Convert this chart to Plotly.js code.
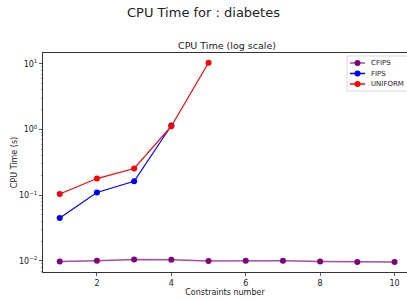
<!DOCTYPE html>
<html><head><meta charset="utf-8">
<script src="https://cdn.plot.ly/plotly-3.0.1.min.js"></script>
<style>html,body{margin:0;padding:0;background:#fff}#c{width:407px;height:301px}</style>
</head><body><div id="c"></div>
<script>
const constraints = [1,2,3,4,5,6,7,8,9,10];
const cfips = [0.0098,0.0100,0.0105,0.0104,0.0099,0.0100,0.0100,0.0098,0.0096,0.0096];
const fipsX = [1,2,3,4];
const fips = [0.045,0.110,0.163,1.15];
const uniformX = [1,2,3,4,5];
const uniform = [0.104,0.179,0.255,1.12,10.4];
const seriesNames = ['CFIPS','FIPS','UNIFORM'];
const yTickVals = [0.01,0.1,1,10];
const yTickText = ['10<sup>−2</sup>','10<sup>−1</sup>','10<sup>0</sup>','10<sup>1</sup>'];
const xTickVals = [2,4,6,8,10];

const lineColors = ['rgba(128,0,128,0.7)','blue','red'];
const markerColors = ['purple','blue','red'];
const F = 'DejaVu Sans';
const traces = [
  {x:constraints, y:cfips, name:seriesNames[0], mode:'lines+markers',
   line:{color:lineColors[0], width:1.5}, marker:{color:markerColors[0], size:6}},
  {x:fipsX, y:fips, name:seriesNames[1], mode:'lines+markers',
   line:{color:lineColors[1], width:1.2}, marker:{color:markerColors[1], size:6}},
  {x:uniformX, y:uniform, name:seriesNames[2], mode:'lines+markers',
   line:{color:lineColors[2], width:1.2}, marker:{color:markerColors[2], size:6}}
];

// plot area geometry (pixels)
const L = 43, T = 53, W = 364, H = 219;
const px = v => (v - L) / W;
const py = v => (T + H - v) / H;

const shapes = [
  {type:'rect', xref:'paper', yref:'paper', x0:px(347), x1:px(412), y0:py(56), y1:py(91),
   fillcolor:'rgba(255,255,255,0.85)', line:{color:'#d0d0d0', width:0.8}, layer:'above'}
];
const annotations = [
  {text:'CPU Time for : diabetes', xref:'paper', yref:'paper', x:px(203), y:py(12),
   xanchor:'center', yanchor:'middle', showarrow:false, font:{family:F, size:13, color:'#222'}},
  {text:'CPU Time (log scale)', xref:'paper', yref:'paper', x:px(227), y:py(46),
   xanchor:'center', yanchor:'middle', showarrow:false, font:{family:F, size:9.5, color:'#222'}}
];
seriesNames.forEach((n, i) => {
  const yy = 63 + i * 10.5;
  shapes.push({type:'line', xref:'paper', yref:'paper', x0:px(350), x1:px(365), y0:py(yy), y1:py(yy),
               line:{color:lineColors[i], width:1.5}, layer:'above'});
  shapes.push({type:'circle', xref:'paper', yref:'paper', xsizemode:'pixel', ysizemode:'pixel',
               xanchor:px(357.5), yanchor:py(yy), x0:-3, x1:3, y0:-3, y1:3,
               fillcolor:markerColors[i], line:{color:markerColors[i], width:0}, layer:'above'});
  annotations.push({text:n, xref:'paper', yref:'paper', x:px(369), y:py(yy), xanchor:'left',
                    yanchor:'middle', showarrow:false, font:{family:F, size:7, color:'#222'}});
});

const layout = {
  width:407, height:301,
  margin:{l:L, r:407 - L - W, t:T, b:301 - T - H},
  paper_bgcolor:'#fff', plot_bgcolor:'#fff',
  font:{family:F, size:8, color:'#222'},
  showlegend:false,
  xaxis:{range:[0.55,10.335], tickvals:xTickVals, ticks:'outside', ticklen:3, tickwidth:0.8,
         tickcolor:'#333', showgrid:false, zeroline:false, showline:true, linecolor:'#333',
         linewidth:1, mirror:true, tickfont:{family:F, size:8, color:'#222'},
         title:{text:'Constraints number', font:{family:F, size:8, color:'#222'}, standoff:2}},
  yaxis:{type:'log', range:[-2.17,1.165], tickmode:'array', tickvals:yTickVals, ticktext:yTickText,
         ticks:'outside', ticklen:3, tickwidth:0.8, tickcolor:'#333', showgrid:false, zeroline:false,
         showline:true, linecolor:'#333', linewidth:1, mirror:false,
         minor:{ticks:'outside', ticklen:1.5, tickwidth:0.6, tickcolor:'#555', showgrid:false, dtick:'D1'},
         tickfont:{family:F, size:8, color:'#222'},
         title:{text:'CPU Time (s)', font:{family:F, size:8, color:'#222'}, standoff:0}},
  shapes:shapes,
  annotations:annotations
};
Plotly.newPlot('c', traces, layout, {staticPlot:true, displayModeBar:false});
</script></body></html>
